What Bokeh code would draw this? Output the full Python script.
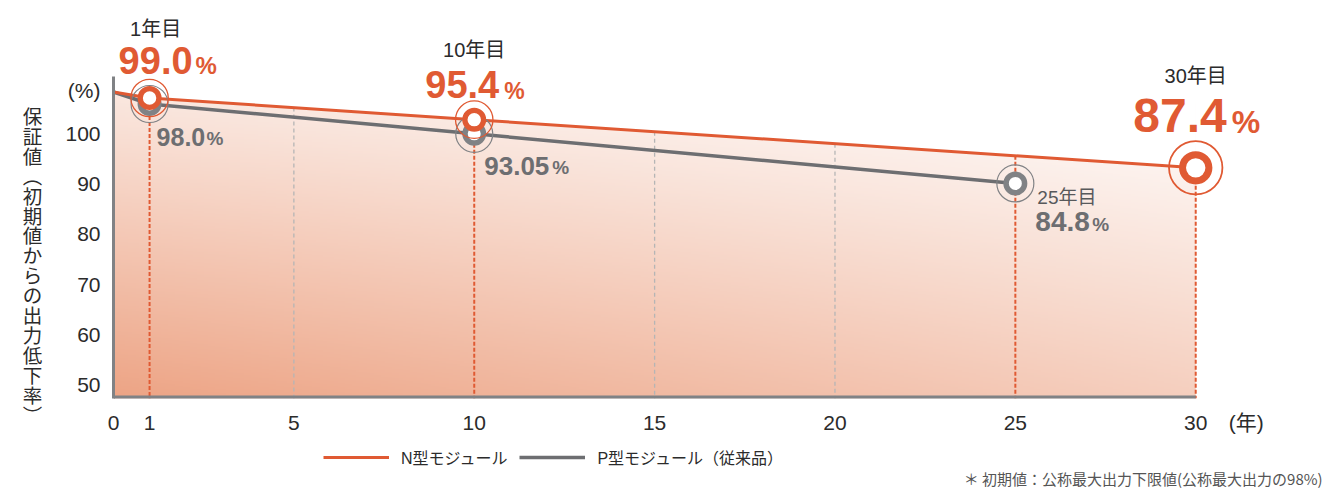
import numpy as np
from bokeh.plotting import figure
from bokeh.layouts import row, column
from bokeh.models import Range1d, LinearAxis, FixedTicker, Label, Legend, LegendItem
from bokeh.embed import file_html
from bokeh.resources import INLINE

# ---------------- data ----------------
years_n = [0, 1, 10, 30]
vals_n = [100.0, 99.0, 95.4, 87.4]
years_p = [0, 1, 10, 25]
vals_p = [100.0, 98.0, 93.05, 84.8]
marked_n = [1, 10, 30]
marked_p = [1, 10, 25]
x_ticks = [0, 1, 5, 10, 15, 20, 25, 30]
y_ticks = [50, 60, 70, 80, 90, 100]
x_unit = "(年)"
y_unit = "(%)"
y_title = "保証値（初期値からの出力低下率）"
series_names = ["N型モジュール", "P型モジュール（従来品）"]
footnote = "＊ 初期値：公称最大出力下限値(公称最大出力の98%)"

# ---------------- style / layout ----------------
RED = "#E05A33"
GRAY = "#6D6E71"
RING_GRAY = "#808285"
TXT = "#2B2B2B"
NUM_FONT = "Liberation Sans, Noto Sans CJK JP"
JP_FONT = "Noto Sans CJK JP"

TOTAL_W, TOTAL_H = 1324, 490
LEFT_W = 50
MAIN_H = 440
y_lo, y_hi = 49.08, 115.19          # line scale across the frame
ax_lo, ax_hi = 47.21, 126.49        # printed tick scale across the frame
ax_line_top = 111.35                # top end of the drawn y axis line
x_unit_pos = 31.4
y_unit_pos = 108.6


def bare(fig):
    fig.outline_line_color = None
    fig.background_fill_color = "white"
    fig.border_fill_color = "white"
    fig.xgrid.grid_line_color = None
    fig.ygrid.grid_line_color = None
    return fig


# ---------------- main chart ----------------
p = figure(width=TOTAL_W - LEFT_W, height=MAIN_H, output_backend="svg",
           toolbar_location=None, x_range=Range1d(0, 33.57),
           y_range=Range1d(y_lo, y_hi), y_axis_location=None,
           min_border_left=63, min_border_right=0, min_border_top=0,
           min_border_bottom=42, title=None)
bare(p)

p.extra_y_ranges = {"axis": Range1d(ax_lo, ax_hi)}
yax = LinearAxis(y_range_name="axis", ticker=FixedTicker(ticks=y_ticks + [y_unit_pos]),
                 bounds=(ax_lo, ax_line_top))
yax.major_label_overrides = {y_unit_pos: y_unit}
yax.axis_line_color = RING_GRAY
yax.axis_line_width = 3
yax.major_tick_line_color = None
yax.minor_tick_line_color = None
yax.major_label_standoff = 7
yax.major_label_text_font = NUM_FONT
yax.major_label_text_font_size = "21px"
yax.major_label_text_color = TXT
p.add_layout(yax, "left")

xax = p.xaxis[0]
xax.ticker = FixedTicker(ticks=x_ticks + [x_unit_pos])
xax.major_label_overrides = {x_unit_pos: x_unit}
xax.axis_line_color = None
xax.major_tick_line_color = None
xax.minor_tick_line_color = None
xax.major_label_standoff = 6
xax.major_label_text_font = NUM_FONT
xax.major_label_text_font_size = "21px"
xax.major_label_text_color = TXT

# gradient fill under the N line
HI, WI = 200, 300
u = np.linspace(0, 1, WI)[None, :]
w = np.linspace(0, 1, HI)[:, None]
d = 0.53 * (1 - w) + 0.25 * (1 - u) + 0.22 * (1 - w) * (1 - u)
base = (237, 164, 133)
img = np.empty((HI, WI), dtype=np.uint32)
view = img.view(dtype=np.uint8).reshape((HI, WI, 4))
for i, c in enumerate(base):
    view[:, :, i] = np.clip(255 - (255 - c) * d, 0, 255).astype(np.uint8)
view[:, :, 3] = 255
p.image_rgba(image=[img], x=x_ticks[0], y=y_lo, dw=x_ticks[-1] - x_ticks[0],
             dh=vals_n[0] - y_lo)
p.varea(x=years_n, y1=vals_n, y2=[y_hi] * len(years_n), fill_color="white")

# guide lines
marked_all = sorted(set(marked_n) | set(marked_p))
red_x = [x for x in x_ticks if x in marked_all]
gray_x = [x for x in x_ticks[1:] if x not in marked_all]
p.segment(x0=gray_x, y0=list(np.interp(gray_x, years_n, vals_n)), x1=gray_x,
          y1=[y_lo] * len(gray_x), line_color="#B5B5B5", line_width=1.3,
          line_dash="4 3")
p.segment(x0=red_x, y0=list(np.interp(red_x, years_n, vals_n)), x1=red_x,
          y1=[y_lo] * len(red_x), line_color=RED, line_width=2,
          line_dash="4 2")
p.segment(x0=[x_ticks[0]], y0=[y_lo], x1=[x_ticks[-1]], y1=[y_lo],
          line_color=RING_GRAY, line_width=6)

# lines
p.line(years_p, vals_p, line_color=GRAY, line_width=3.5)
p.line(years_n, vals_n, line_color=RED, line_width=3)

# markers
pm_v = list(np.interp(marked_p, years_p, vals_p))
nm_v = list(np.interp(marked_n, years_n, vals_n))
p.scatter(marked_p, pm_v, size=37, fill_alpha=0, line_color=RING_GRAY, line_width=1.2)
p.scatter(marked_p, pm_v, size=18.5, fill_color="white", line_color=RING_GRAY, line_width=5.5)
big = [x == years_n[-1] for x in marked_n]
p.scatter(marked_n, nm_v, size=[53.4 if b else 37.4 for b in big], fill_alpha=0,
          line_color=RED, line_width=[1.8 if b else 1.3 for b in big])
p.scatter(marked_n, nm_v, size=[26.4 if b else 18.7 for b in big], fill_color="white",
          line_color=RED, line_width=[7 if b else 5.3 for b in big])


def fmt(v):
    s = f"{v:.2f}".rstrip("0")
    return s + "0" if s.endswith(".") else s


def lab(fig, x, y, text, dx, dy, size, color, bold=False, align="left",
        baseline="middle", font=NUM_FONT):
    fig.add_layout(Label(x=x, y=y, text=text, x_offset=dx, y_offset=dy,
                         text_font_size=f"{size}px", text_color=color,
                         text_font_style="bold" if bold else "normal",
                         text_align=align, text_baseline=baseline,
                         text_font=font))


# N labels: (year dx, year dy, number right dx, number dy, number size, % dx, % dy, % size)
n_lay = {1: (6, 69, 43, 37, 38, 46, 32, 24),
         10: (0, 70, 25, 35, 38, 30, 29, 23),
         30: (0, 92, 31, 52, 48, 36, 46, 32)}
for x, v in zip(marked_n, nm_v):
    ydx, ydy, ndx, ndy, ns, pdx, pdy, ps = n_lay[x]
    lab(p, x, v, f"{x}年目", ydx, ydy, 20, TXT, align="center")
    lab(p, x, v, fmt(v), ndx, ndy, ns, RED, bold=True, align="right")
    lab(p, x, v, "%", pdx, pdy, ps, RED, bold=True)

# P labels: (number dx, number dy, number size, % dx, % dy, % size)
p_lay = {1: (7, -33, 25, 57, -35, 19),
         10: (10, -32, 26, 78, -34, 19),
         25: (20, -38, 28, 77, -41, 19)}
for x, v in zip(marked_p, pm_v):
    ndx, ndy, ns, pdx, pdy, ps = p_lay[x]
    if x == marked_p[-1]:
        lab(p, x, v, f"{x}年目", 22, -14, 19, "#58595B")
    lab(p, x, v, fmt(v), ndx, ndy, ns, GRAY, bold=True)
    lab(p, x, v, "%", pdx, pdy, ps, GRAY, bold=True)

# ---------------- left strip: vertical y title ----------------
left = figure(width=LEFT_W, height=TOTAL_H, output_backend="svg", toolbar_location=None,
              x_range=Range1d(0, LEFT_W), y_range=Range1d(TOTAL_H, 0),
              x_axis_location=None, y_axis_location=None, min_border=0, title=None)
bare(left)
vert = y_title.replace("（", "︵").replace("）", "︶")
for i, ch in enumerate(vert):
    lab(left, 32, 115 + 19.9 * i, ch, 0, 0, 19.5, TXT, align="center", font=JP_FONT)

# ---------------- bottom strip: legend + footnote ----------------
bot = figure(width=TOTAL_W - LEFT_W, height=TOTAL_H - MAIN_H, output_backend="svg",
             toolbar_location=None, x_range=Range1d(LEFT_W, TOTAL_W),
             y_range=Range1d(TOTAL_H, MAIN_H), x_axis_location=None,
             y_axis_location=None, min_border=0, title=None)
bare(bot)
# legend samples: the series drawn in this strip fall outside its range (not visible)
ln_n = bot.line(years_n, vals_n, line_color=RED, line_width=3)
ln_p = bot.line(years_p, vals_p, line_color=GRAY, line_width=3.5)
legend = Legend(items=[LegendItem(label=series_names[0], renderers=[ln_n]),
                       LegendItem(label=series_names[1], renderers=[ln_p])],
                location=(210, 21), orientation="horizontal",
                glyph_width=66, glyph_height=20, label_standoff=12, spacing=12,
                padding=0, margin=0, border_line_color=None,
                background_fill_alpha=0, label_text_font_size="16px",
                label_text_font=NUM_FONT, label_text_color=TXT)
bot.add_layout(legend)
lab(bot, 1322, 478, footnote, 0, 0, 15, "#555555", align="right", font=JP_FONT)

layout = row(left, column(p, bot, spacing=0), spacing=0)
open("out.html", "w").write(file_html(layout, INLINE))
